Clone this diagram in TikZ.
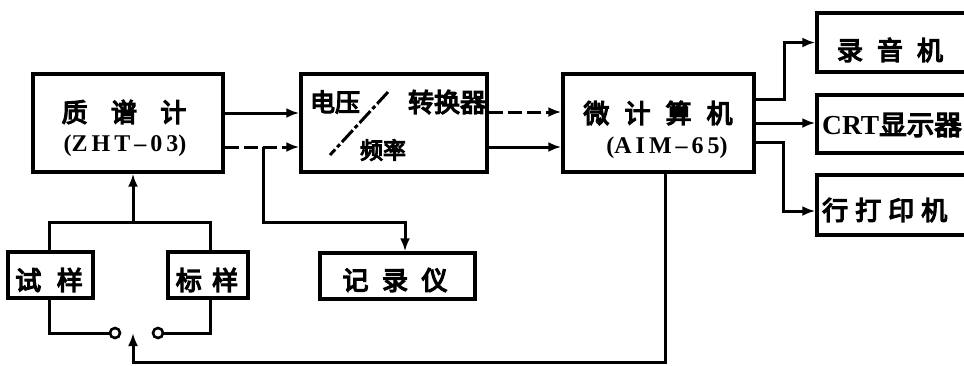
\documentclass[tikz,border=0pt]{standalone}
\usepackage{fontspec}
\newfontfamily\cjk{Noto Sans CJK SC}[FakeBold=5]
\newfontfamily\lser{Liberation Serif}
\usetikzlibrary{arrows.meta}
\begin{document}
\begin{tikzpicture}[x=1pt,y=-1pt,
  blk/.style={draw,line width=3.4pt,inner sep=0pt,minimum height=98pt},
  txt/.style={inner sep=0pt,font=\cjk\fontsize{26}{26}\selectfont},
  lat/.style={inner sep=0pt,font=\lser\bfseries\fontsize{24}{24}\selectfont},
  ln/.style={line width=3pt},
  arr/.style={ln,-{Latex[length=13pt,width=10pt]}},
  dsh/.style={dash pattern=on 14pt off 5pt},
  term/.style={circle,draw,line width=2.6pt,fill=white,inner sep=0pt,minimum size=10pt}]
\useasboundingbox (0,0) rectangle (964,365);
% boxes
\node[blk,minimum width=190pt] (ms) at (128,123) {};
\node[blk,minimum width=186pt] (cv) at (394,123) {};
\node[blk,minimum width=191pt] (mc) at (658.5,123) {};
\node[blk,minimum width=163pt,minimum height=59pt] (ly) at (898.5,42.5) {};
\node[blk,minimum width=163pt,minimum height=58pt] (crt) at (898.5,124) {};
\node[blk,minimum width=163pt,minimum height=60pt] (hp) at (898.5,205) {};
\node[blk,minimum width=85pt,minimum height=46pt] (sy) at (50.5,275) {};
\node[blk,minimum width=80pt,minimum height=46pt] (by) at (208,275) {};
\node[blk,minimum width=155pt,minimum height=46pt] (jl) at (397.5,276) {};
% texts
\node[txt] (t1) at (124,112) {质\hspace{0.9em}谱\hspace{0.9em}计};
\node[lat] (t2) at (125,146) {(Z\,H\,T\,–\,0\,3)};
\node[txt,font=\cjk\fontsize{25}{25}\selectfont] (t3) at (335,102) {电压};
\node[txt] (t4) at (447,102) {转换器};
\node[txt,font=\cjk\fontsize{23}{23}\selectfont] (t5) at (383,150) {频率};
\node[txt] (t6) at (658,113) {微\hspace{0.58em}计\hspace{0.58em}算\hspace{0.58em}机};
\node[lat] (t7) at (667,148) {(A\,I\,M\,–\,6\,5)};
\node[txt] (t8) at (890,50) {录\hspace{0.54em}音\hspace{0.54em}机};
\node[txt,anchor=west,font=\cjk\fontsize{27.5}{27.5}\selectfont] (t9) at (822,125) {{\lser\bfseries CRT}显示器};
\node[txt,anchor=west] (t10) at (822,210) {行\hspace{0.27em}打\hspace{0.27em}印\hspace{0.27em}机};
\node[txt] (t11) at (49,280) {试\hspace{0.6em}样};
\node[txt] (t12) at (207,280) {标\hspace{0.4em}样};
\node[txt] (t13) at (395,280) {记\hspace{0.52em}录\hspace{0.52em}仪};
\draw[ln,dash pattern=on 16pt off 3pt on 4pt off 3pt] (388,92) -- (330,155);
% connectors
\draw[arr] ([yshift=10]ms.east) -- ([yshift=10]cv.west);
\draw[arr,dsh] ([yshift=-24]ms.east) -- ([yshift=-24]cv.west);
\coordinate (b1) at (263,147);
\draw[arr] (b1) |- (405,222) -- ([xshift=7.5]jl.north);
\draw[arr,dsh] ([yshift=11]cv.east) -- ([yshift=11]mc.west);
\draw[arr] ([yshift=-24]cv.east) -- ([yshift=-24]mc.west);
\draw[arr] ([yshift=24]mc.east) -- ++(29,0) |- (ly.west);
\draw[arr] (mc.east) -- (crt.west |- mc.east);
\draw[arr] ([yshift=-19]mc.east) -- ++(28,0) |- ([yshift=-6]hp.west);
% sample switching
\coordinate (j1) at (133,222);
\coordinate (sw) at (133,333);
\draw[arr] (j1) -- ([xshift=5]ms.south);
\draw[ln] ([xshift=-1.5]sy.north) |- (j1) -| ([xshift=2]by.north);
\node[term] (c1) at (115,333) {};
\node[term] (c2) at (158,333) {};
\draw[ln] ([xshift=-1.5]sy.south) |- (c1.west);
\draw[ln] ([xshift=2]by.south) |- (c2.east);
\draw[arr] ([xshift=6.5]mc.south) |- (133,362) -- (sw);
\end{tikzpicture}
\end{document}
